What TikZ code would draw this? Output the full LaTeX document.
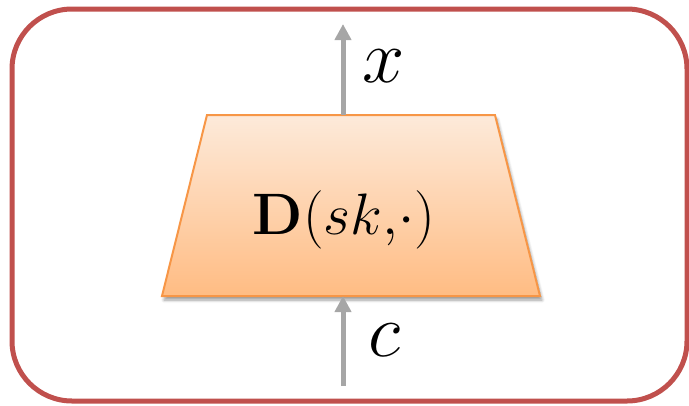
\documentclass[tikz,border=0pt]{standalone}
\usetikzlibrary{arrows.meta,shadows.blur}

\definecolor{frameRed}{HTML}{C0504D}
\definecolor{boxOrange}{HTML}{F79646}
\definecolor{boxTop}{HTML}{FDEADA}
\definecolor{boxBot}{HTML}{FFBC83}
\definecolor{arrowGray}{HTML}{A6A6A6}

\begin{document}
\begin{tikzpicture}[
    x=1pt, y=-1pt,
    frame box/.style = {draw=frameRed, line width=5pt, rounded corners=60pt},
    dec box/.style = {draw=boxOrange, line width=2pt, top color=boxTop, bottom color=boxBot,
        blur shadow={shadow xshift=2pt, shadow yshift=-4pt, shadow blur steps=6,
            shadow blur radius=3pt, shadow opacity=40}},
    io arrow/.style = {draw=arrowGray, line width=5pt,
        -{Triangle[width=16pt, length=16pt]}},
    io label/.style = {font=\Huge, scale=3.05}
]
\useasboundingbox (0,0) rectangle (689,405);

% Rahmen
\draw[frame box] (12,9) rectangle (687,401);

% Entschluesselung (Trapez)
\coordinate (decTL) at (207,115);
\coordinate (decTR) at (495,115);
\coordinate (decBR) at (540,296);
\coordinate (decBL) at (162,296);
\path[dec box] (decTL) -- (decTR) -- (decBR) -- (decBL) -- cycle;
\node[font=\Huge, scale=2.35] (decname) at (344,220) {$\mathbf{D}(sk,\!\cdot)$};

% Ein- und Ausgabe
\coordinate (cin) at (343,386);
\coordinate (xout) at (343,24);
\draw[io arrow] (cin) -- (cin |- decBL);
\draw[io arrow] (xout |- decTL) -- (xout);
\node[io label] (clabel) at (384,340) {$c$};
\node[io label] (xlabel) at (384,66) {$x$};

\end{tikzpicture}
\end{document}
